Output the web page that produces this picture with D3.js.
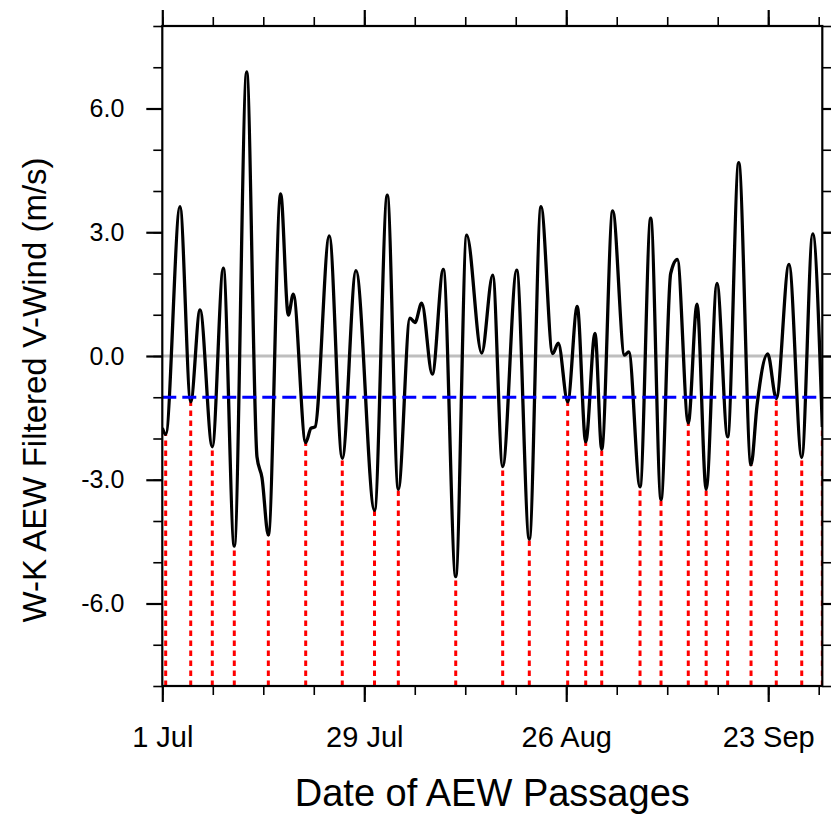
<!DOCTYPE html>
<html>
<head>
<meta charset="utf-8">
<script src="https://cdn.jsdelivr.net/npm/d3@7"></script>
<style>
  html, body { margin: 0; padding: 0; background: #fff; }
  svg { display: block; }
  text { font-family: "Liberation Sans", Arial, Helvetica, sans-serif; fill: #000; }
</style>
</head>
<body>
<svg id="chart" width="831" height="814"></svg>
<script>
// Days since 1 Jul (fractional) for each turning point of the filtered series
const days = [
  0.00, 0.47, 2.45, 3.94, 5.23, 6.93, 8.46, 9.98, 11.70, 13.13,
  13.82, 14.70, 16.41, 17.47, 18.16, 19.88, 20.62, 21.17, 23.15, 24.95,
  26.85, 29.42, 31.19, 32.72, 34.34, 35.03, 35.96, 37.43, 38.96, 40.68,
  42.20, 44.28, 45.81, 47.19, 49.13, 50.88, 52.50, 54.12, 54.90, 56.20,
  57.53, 58.70, 59.99, 60.92, 62.44, 64.08, 64.67, 66.23, 67.71, 69.14,
  70.48, 71.40, 72.92, 74.13, 75.40, 76.90, 78.38, 79.91, 81.62, 82.45,
  83.93, 85.12, 86.88, 88.65, 90.17, 91.50
];
// W-K AEW filtered meridional wind (m/s)
const vwind = [
  -1.75, -1.90, 3.62, -1.11, 1.12, -2.20, 2.13, -4.61, 6.89, -2.45,
  -2.95, -4.34, 3.93, 0.99, 1.50, -2.10, -1.75, -1.72, 2.91, -2.48,
  2.07, -3.74, 3.90, -3.23, 0.92, 0.81, 1.28, -0.44, 2.10, -5.35,
  2.93, 0.07, 1.96, -2.68, 2.08, -4.44, 3.62, 0.06, 0.31, -1.11,
  1.20, -2.08, 0.55, -2.26, 3.52, 0.02, 0.10, -3.17, 3.34, -3.48,
  2.00, 2.34, -1.62, 1.26, -3.23, 1.76, -1.96, 4.69, -2.64, -1.20,
  0.05, -1.03, 2.22, -2.46, 2.96, -1.72
];
// Passage threshold (m/s)
const threshold = -1.0;

// Axis ticks
const xMajorDays = [0, 28, 56, 84];
const xTickLabels = ["1 Jul", "29 Jul", "26 Aug", "23 Sep"];
const xMinorDays = d3.range(0, 92, 7);
const yMajorTicks = [-6, -3, 0, 3, 6];
const yMinorTicks = d3.range(-8, 9, 1);

const margin = { left: 162.3, right: 831 - 822.3, top: 26, bottom: 814 - 686 };
const W = 831, H = 814;
const svg = d3.select("#chart");

const x = d3.scaleLinear().domain([0, 91.5]).range([margin.left, W - margin.right]);
const y = d3.scaleLinear().domain([-8, 8]).range([H - margin.bottom, margin.top]);

const pts = days.map((d, i) => ({ day: d, v: vwind[i] }));

svg.append("defs").append("clipPath").attr("id", "plotclip")
  .append("rect")
  .attr("x", x.range()[0]).attr("y", y.range()[1])
  .attr("width", x.range()[1] - x.range()[0])
  .attr("height", y.range()[0] - y.range()[1]);

const plot = svg.append("g").attr("clip-path", "url(#plotclip)");

// zero reference line
plot.append("line")
  .attr("x1", x.range()[0]).attr("x2", x.range()[1])
  .attr("y1", y(0)).attr("y2", y(0))
  .attr("stroke", "#bebebe").attr("stroke-width", 2.8);

// wave passages: local minima below the threshold
const passages = pts.filter((p, i) => {
  const prev = i > 0 ? pts[i - 1].v : Infinity;
  const next = i < pts.length - 1 ? pts[i + 1].v : Infinity;
  return p.v < threshold && p.v < prev && p.v < next;
});
plot.selectAll("line.passage").data(passages).join("line")
  .attr("class", "passage")
  .attr("x1", d => x(d.day)).attr("x2", d => x(d.day))
  .attr("y1", y(-8)).attr("y2", d => y(d.v))
  .attr("stroke", "#ff0000").attr("stroke-width", 3)
  .attr("stroke-dasharray", "5.5,4.5");

// filtered wind series
const line = d3.line().x(d => x(d.day)).y(d => y(d.v)).curve(d3.curveMonotoneX);
plot.append("path").datum(pts)
  .attr("d", line)
  .attr("fill", "none").attr("stroke", "#000").attr("stroke-width", 3.3)
  .attr("stroke-linejoin", "round");

// threshold line
plot.append("line")
  .attr("x1", x.range()[0]).attr("x2", x.range()[1])
  .attr("y1", y(threshold)).attr("y2", y(threshold))
  .attr("stroke", "#0000ff").attr("stroke-width", 3.2)
  .attr("stroke-dasharray", "14,6");

// axes
function styleAxis(g, width) {
  g.select(".domain").remove();
  g.selectAll(".tick line").attr("stroke", "#000").attr("stroke-width", width);
}
const majorLen = 16, minorLen = 9;

// left
svg.append("g").attr("transform", `translate(${x.range()[0]},0)`)
  .call(d3.axisLeft(y).tickValues(yMinorTicks).tickSize(minorLen).tickFormat(""))
  .call(g => styleAxis(g, 1.6));
svg.append("g").attr("transform", `translate(${x.range()[0]},0)`)
  .call(d3.axisLeft(y).tickValues(yMajorTicks).tickSize(majorLen).tickPadding(22)
        .tickFormat(d => d.toFixed(1)))
  .call(g => styleAxis(g, 2.2))
  .call(g => g.selectAll("text").attr("font-size", 25)
        .attr("font-family", "'Liberation Sans', Arial, sans-serif"));
// right
svg.append("g").attr("transform", `translate(${x.range()[1]},0)`)
  .call(d3.axisRight(y).tickValues(yMinorTicks).tickSize(minorLen).tickFormat(""))
  .call(g => styleAxis(g, 1.6));
svg.append("g").attr("transform", `translate(${x.range()[1]},0)`)
  .call(d3.axisRight(y).tickValues(yMajorTicks).tickSize(majorLen).tickFormat(""))
  .call(g => styleAxis(g, 2.2));
// bottom
svg.append("g").attr("transform", `translate(0,${y.range()[0]})`)
  .call(d3.axisBottom(x).tickValues(xMinorDays).tickSize(minorLen).tickFormat(""))
  .call(g => styleAxis(g, 1.6));
svg.append("g").attr("transform", `translate(0,${y.range()[0]})`)
  .call(d3.axisBottom(x).tickValues(xMajorDays).tickSize(majorLen).tickPadding(24)
        .tickFormat((d, i) => xTickLabels[i]))
  .call(g => styleAxis(g, 2.2))
  .call(g => g.selectAll("text").attr("font-size", 29)
        .attr("font-family", "'Liberation Sans', Arial, sans-serif"));
// top
svg.append("g").attr("transform", `translate(0,${y.range()[1]})`)
  .call(d3.axisTop(x).tickValues(xMinorDays).tickSize(minorLen).tickFormat(""))
  .call(g => styleAxis(g, 1.6));
svg.append("g").attr("transform", `translate(0,${y.range()[1]})`)
  .call(d3.axisTop(x).tickValues(xMajorDays).tickSize(majorLen).tickFormat(""))
  .call(g => styleAxis(g, 2.2));

// frame
svg.append("rect")
  .attr("x", x.range()[0]).attr("y", y.range()[1])
  .attr("width", x.range()[1] - x.range()[0])
  .attr("height", y.range()[0] - y.range()[1])
  .attr("fill", "none").attr("stroke", "#000").attr("stroke-width", 2.2);

// titles
svg.append("text")
  .attr("x", (x.range()[0] + x.range()[1]) / 2).attr("y", 806)
  .attr("text-anchor", "middle").attr("font-size", 38)
  .text("Date of AEW Passages");
svg.append("text")
  .attr("transform", "translate(46,390) rotate(-90)")
  .attr("text-anchor", "middle").attr("font-size", 33)
  .text("W-K AEW Filtered V-Wind (m/s)");
</script>
</body>
</html>
